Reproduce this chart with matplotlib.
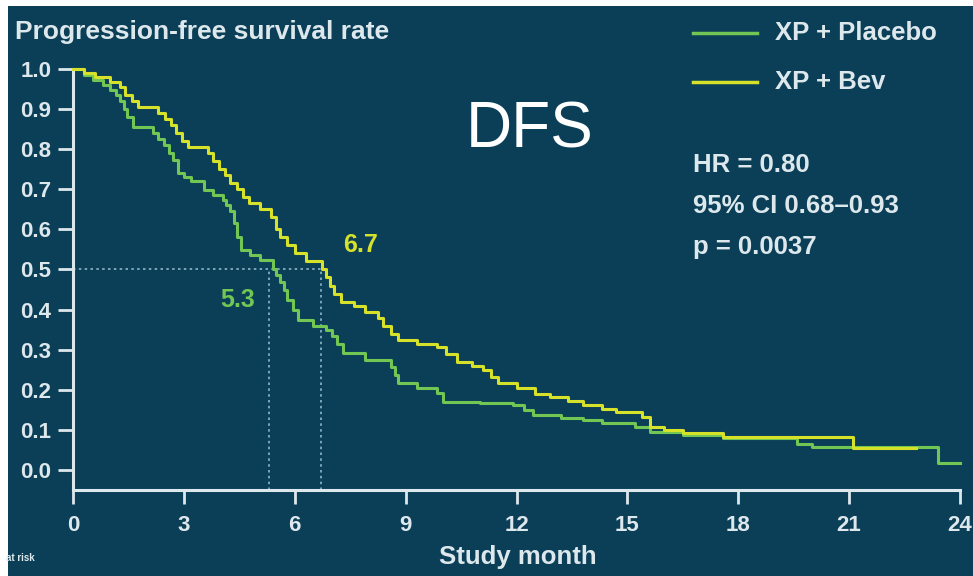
import matplotlib
matplotlib.use('Agg')
import matplotlib.pyplot as plt
from matplotlib.patches import Rectangle

# Kaplan-Meier steps (month, survival)
bev_t = [0, 0.3, 0.6, 1.0, 1.27, 1.4, 1.6, 1.75, 2.3, 2.5, 2.65, 2.8, 2.95, 3.1,
         3.65, 3.8, 3.95, 4.1, 4.25, 4.45, 4.6, 4.75, 5.05, 5.35, 5.5, 5.6, 5.8,
         6.0, 6.3, 6.75, 6.85, 6.95, 7.05, 7.25, 7.6, 7.9, 8.25, 8.4, 8.6, 8.8,
         9.3, 9.85, 10.1, 10.4, 10.8, 11.1, 11.3, 11.5, 12.0, 12.5, 12.9, 13.4,
         13.8, 14.3, 14.7, 15.4, 15.6, 16.0, 16.5, 17.6, 21.1, 22.8]
bev_s = [1.0, 0.99, 0.98, 0.968, 0.955, 0.935, 0.92, 0.905, 0.89, 0.875, 0.86,
         0.84, 0.82, 0.805, 0.79, 0.77, 0.75, 0.735, 0.716, 0.70, 0.68, 0.666,
         0.65, 0.63, 0.60, 0.58, 0.56, 0.54, 0.52, 0.50, 0.48, 0.46, 0.44, 0.42,
         0.41, 0.395, 0.38, 0.36, 0.34, 0.325, 0.315, 0.307, 0.29, 0.27, 0.26,
         0.25, 0.232, 0.217, 0.205, 0.19, 0.182, 0.172, 0.162, 0.152, 0.145,
         0.132, 0.107, 0.10, 0.092, 0.083, 0.055, 0.055]

pla_t = [0, 0.3, 0.55, 0.8, 1.0, 1.15, 1.27, 1.38, 1.46, 1.62, 2.16, 2.3, 2.45,
         2.6, 2.7, 2.85, 3.0, 3.2, 3.55, 3.8, 4.05, 4.15, 4.25, 4.35, 4.45, 4.55,
         4.8, 5.05, 5.4, 5.5, 5.6, 5.7, 5.8, 5.95, 6.1, 6.5, 6.85, 7.0, 7.15,
         7.3, 7.9, 8.6, 8.7, 8.8, 9.3, 9.85, 10.0, 11.0, 11.9, 12.2, 12.45, 13.2,
         13.8, 14.3, 15.2, 15.6, 16.5, 17.6, 19.6, 20.0, 23.4, 24.0]
pla_s = [1.0, 0.985, 0.973, 0.96, 0.948, 0.935, 0.92, 0.90, 0.88, 0.855, 0.84,
         0.825, 0.81, 0.79, 0.773, 0.74, 0.73, 0.72, 0.698, 0.685, 0.673, 0.66,
         0.645, 0.616, 0.58, 0.549, 0.535, 0.524, 0.50, 0.485, 0.47, 0.45,
         0.424, 0.40, 0.374, 0.36, 0.349, 0.335, 0.315, 0.292, 0.275, 0.257,
         0.237, 0.217, 0.205, 0.192, 0.17, 0.166, 0.162, 0.15, 0.137, 0.13,
         0.125, 0.118, 0.107, 0.095, 0.087, 0.08, 0.065, 0.057, 0.017, 0.017]

medians = {'placebo': 5.3, 'bev': 6.7}
x_ticks = [0, 3, 6, 9, 12, 15, 18, 21, 24]
y_ticks = [0.0, 0.1, 0.2, 0.3, 0.4, 0.5, 0.6, 0.7, 0.8, 0.9, 1.0]
stats_lines = ['HR = 0.80', '95% CI 0.68\u20130.93', 'p = 0.0037']

BG = '#0b3f58'
FG = '#dde8ec'
GREEN = '#72c653'
YELLOW = '#d6e12a'
DOT = '#8fb6c9'

plt.rcParams['font.family'] = ['Liberation Sans', 'DejaVu Sans']

W, H = 973, 576
fig = plt.figure(figsize=(W / 100, H / 100), dpi=100, facecolor='white')
fig.patches.append(Rectangle((8 / W, 0), 1, (H - 6) / H, transform=fig.transFigure,
                             facecolor=BG, edgecolor='none', zorder=-10))

ax = fig.add_axes([73 / W, (H - 490) / H, 887 / W, 421 / H])
ax.set_facecolor('none')
ax.set_xlim(0, 24)
ax.set_ylim(-0.05, 1.0)

ax.step(pla_t, pla_s, where='post', color=GREEN, lw=2.2, clip_on=False, zorder=3)
ax.step(bev_t, bev_s, where='post', color=YELLOW, lw=2.2, clip_on=False, zorder=4)

# median guide lines
ax.plot([0, medians['bev']], [0.5, 0.5], color=DOT, lw=1.2, ls=(0, (1.5, 2)), zorder=2)
for m in medians.values():
    ax.plot([m, m], [-0.05, 0.5], color=DOT, lw=1.2, ls=(0, (1.5, 2)), zorder=2)

ax.text(4.46, 0.424, '5.3', color=GREEN, fontsize=18, fontweight='bold', ha='center', va='center')
ax.text(7.77, 0.561, '6.7', color=YELLOW, fontsize=18, fontweight='bold', ha='center', va='center')

for side in ['top', 'right']:
    ax.spines[side].set_visible(False)
for side in ['left', 'bottom']:
    ax.spines[side].set_color(FG)
    ax.spines[side].set_linewidth(2.2)

ax.set_xticks(x_ticks)
ax.set_yticks(y_ticks)
ax.set_yticklabels(['%.1f' % v for v in y_ticks])
ax.tick_params(colors=FG, width=2, labelsize=16)
ax.tick_params(axis='y', length=10.5, pad=5)
ax.tick_params(axis='x', length=10, pad=8)
for lab in ax.get_xticklabels() + ax.get_yticklabels():
    lab.set_fontweight('bold')

fig.text(518 / W, 1 - 557 / H, 'Study month', color=FG, fontsize=18.5, fontweight='bold',
         ha='center', va='center')
fig.text(6 / W, 1 - 558 / H, 'at risk', color=FG, fontsize=7, fontweight='bold',
         ha='left', va='center')
fig.text(15 / W, 1 - 32 / H, 'Progression-free survival rate', color=FG, fontsize=19,
         fontweight='bold', ha='left', va='center')

fig.text(530 / W, 1 - 131 / H, 'DFS', color='white', fontsize=46, ha='center', va='center')

# legend drawn by hand to match the slide
for y, col, lab in [(33, GREEN, 'XP + Placebo'), (82, YELLOW, 'XP + Bev')]:
    fig.lines.append(plt.Line2D([693 / W, 757 / W], [1 - y / H, 1 - y / H],
                                transform=fig.transFigure, color=col, lw=2.5))
    fig.text(775 / W, 1 - y / H, lab, color=FG, fontsize=18.5, fontweight='bold',
             ha='left', va='center')

for i, line in enumerate(stats_lines):
    fig.text(693 / W, 1 - (165 + 41 * i) / H, line, color=FG, fontsize=18.5,
             fontweight='bold', ha='left', va='center')

fig.savefig('out.png', dpi=100, facecolor=fig.get_facecolor())
